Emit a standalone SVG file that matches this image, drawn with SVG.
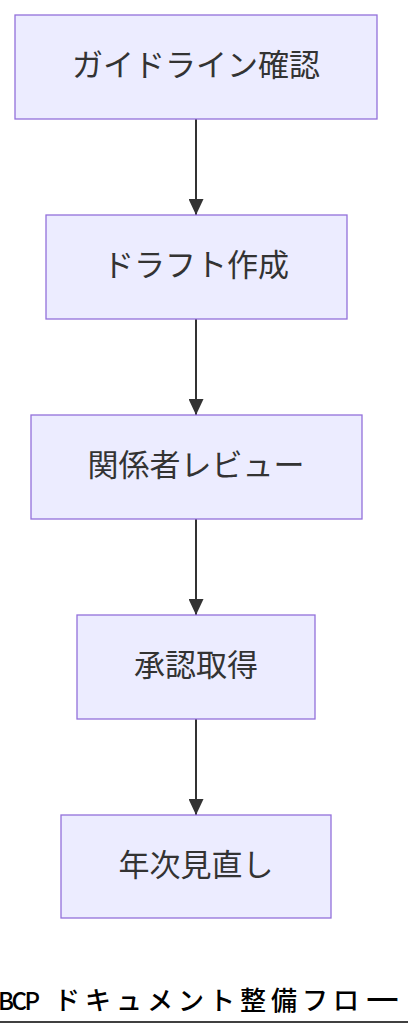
<svg xmlns="http://www.w3.org/2000/svg" width="408" height="1036" viewBox="0 0 408 1036">
<style>
.node rect{fill:#ECECFF;stroke:#9370DB;stroke-width:1.3}
.node text{font-family:"Noto Sans CJK JP","Noto Sans",sans-serif;font-size:31px;fill:#333;text-anchor:middle}
.edge{stroke:#333;stroke-width:2;fill:none}
.title{font-family:"Noto Sans CJK JP","Liberation Sans",sans-serif;font-size:26px;font-weight:500;fill:#000}
</style>
<defs>
<marker id="arrow" viewBox="0 0 16 15" refX="16" refY="7.5" markerWidth="16" markerHeight="15" markerUnits="userSpaceOnUse" orient="auto">
<path d="M0,0 L16,7.5 L0,15 z" fill="#333"/>
</marker>
</defs>
<rect width="408" height="1036" fill="#fff"/>
<g id="connectors">
<line class="edge" x1="196" y1="119" x2="196" y2="215" marker-end="url(#arrow)"/>
<line class="edge" x1="196" y1="319" x2="196" y2="415" marker-end="url(#arrow)"/>
<line class="edge" x1="196" y1="519" x2="196" y2="615" marker-end="url(#arrow)"/>
<line class="edge" x1="196" y1="719" x2="196" y2="815" marker-end="url(#arrow)"/>
</g>
<g id="node-guideline" class="node">
<rect x="15" y="15" width="362" height="104"/>
<text x="196" y="76">ガイドライン確認</text>
</g>
<g id="node-draft" class="node">
<rect x="46" y="215" width="301" height="104"/>
<text x="196" y="276">ドラフト作成</text>
</g>
<g id="node-review" class="node">
<rect x="31" y="415" width="331" height="104"/>
<text x="196" y="476">関係者レビュー</text>
</g>
<g id="node-approval" class="node">
<rect x="77" y="615" width="238" height="104"/>
<text x="196" y="676">承認取得</text>
</g>
<g id="node-annual" class="node">
<rect x="61" y="815" width="270" height="103"/>
<text x="196" y="876">年次見直し</text>
</g>
<g id="title">
<text class="title" y="1010"><tspan x="-2 11.5 24.5" font-size="24">BCP</tspan><tspan x="54 85 116 147 178 209 240 271 302 333">ドキュメント整備フロ</tspan><tspan x="364" textLength="37" lengthAdjust="spacingAndGlyphs">ー</tspan></text>
<line x1="0" y1="1022" x2="408" y2="1022" stroke="#000" stroke-width="1.6"/>
</g>
</svg>
